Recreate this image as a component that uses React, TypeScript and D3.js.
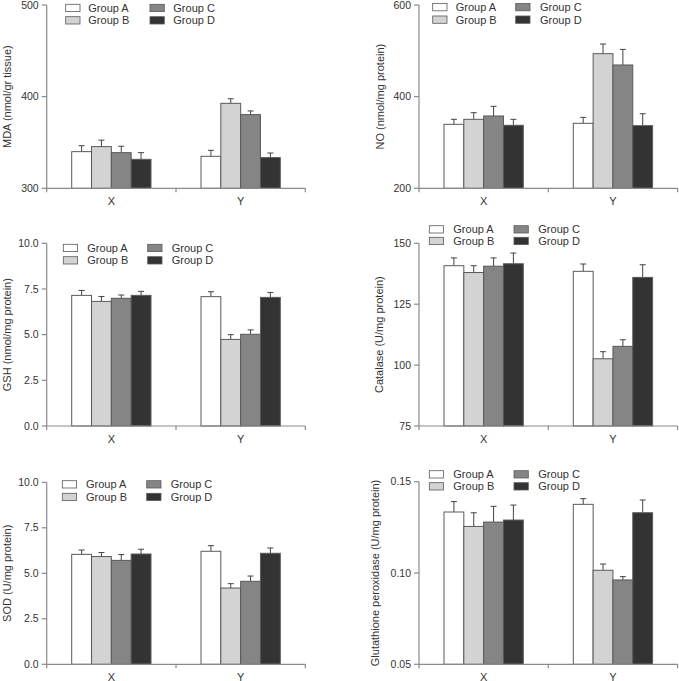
import React from "react";
import * as d3 from "d3";

const categories = ["X", "Y"];
const groups = ["Group A", "Group B", "Group C", "Group D"];
const groupColors = ["#ffffff", "#d3d3d3", "#858585", "#333333"];

const mdaValues = [[340, 345.5, 338.9, 331.6], [334.9, 392.7, 380.4, 333.5]];
const mdaErrors = [[6.5, 7, 7, 7.3], [6.5, 5, 4, 5]];
const noValues = [[339.6, 350.5, 357.8, 337.5], [341.8, 493.8, 469.1, 336.7]];
const noErrors = [[11, 14.5, 21, 13], [13, 21, 34, 26]];
const gshValues = [[7.15, 6.82, 6.99, 7.15], [7.08, 4.74, 5.02, 7.04]];
const gshErrors = [[0.27, 0.27, 0.18, 0.22], [0.27, 0.26, 0.24, 0.27]];
const catValues = [[140.8, 138.0, 140.6, 141.6], [138.5, 102.6, 107.7, 136.0]];
const catErrors = [[3.2, 2.8, 3.4, 4.4], [3.0, 2.9, 2.7, 5.2]];
const sodValues = [[6.04, 5.92, 5.71, 6.06], [6.21, 4.19, 4.56, 6.10]];
const sodErrors = [[0.24, 0.22, 0.32, 0.26], [0.31, 0.24, 0.29, 0.29]];
const gpxValues = [[0.1334, 0.1255, 0.1279, 0.129], [0.1376, 0.1015, 0.0962, 0.133]];
const gpxErrors = [[0.0057, 0.0075, 0.0086, 0.0082], [0.0031, 0.0034, 0.0018, 0.007]];

const mdaTicks = [300, 400, 500];
const noTicks = [200, 400, 600];
const gshTicks = [0, 2.5, 5, 7.5, 10];
const catTicks = [75, 100, 125, 150];
const sodTicks = [0, 2.5, 5, 7.5, 10];
const gpxTicks = [0.05, 0.1, 0.15];

const panels = [
  { title: "MDA (nmol/gr tissue)", values: mdaValues, errors: mdaErrors, ticks: mdaTicks, fmt: "d",
    ax: 46.7, top: 5, bottom: 188.3, labelX: 7.5,
    leg: { c1: 65.7, c2: 150, t1: 22.6, t2: 23.3, r1: 4.3, r2: 16.7 } },
  { title: "NO (nmol/mg protein)", values: noValues, errors: noErrors, ticks: noTicks, fmt: "d",
    ax: 419, top: 5, bottom: 188.3, labelX: 380,
    leg: { c1: 432.7, c2: 515.7, t1: 23, t2: 24.3, r1: 3.5, r2: 16 } },
  { title: "GSH (nmol/mg protein)", values: gshValues, errors: gshErrors, ticks: gshTicks, fmt: ".1f",
    ax: 46.7, top: 243.3, bottom: 426, labelX: 7,
    leg: { c1: 63.3, c2: 147.7, t1: 24, t2: 24, r1: 244.3, r2: 256.7 } },
  { title: "Catalase (U/mg protein)", values: catValues, errors: catErrors, ticks: catTicks, fmt: "d",
    ax: 419, top: 243.3, bottom: 426, labelX: 379.3,
    leg: { c1: 429.3, c2: 514, t1: 24, t2: 24.3, r1: 225.7, r2: 237.3 } },
  { title: "SOD (U/mg protein)", values: sodValues, errors: sodErrors, ticks: sodTicks, fmt: ".1f",
    ax: 46.7, top: 482.3, bottom: 664.3, labelX: 7,
    leg: { c1: 62.3, c2: 146.7, t1: 23.7, t2: 24, r1: 480.7, r2: 493.3 } },
  { title: "Glutathione peroxidase (U/mg protein)", values: gpxValues, errors: gpxErrors, ticks: gpxTicks, fmt: ".2f",
    ax: 419, top: 481.7, bottom: 664.3, labelX: 375,
    leg: { c1: 429.3, c2: 514, t1: 24, t2: 24.3, r1: 470.7, r2: 482.7 } },
];

const FONT = "Liberation Sans, Arial, Helvetica, sans-serif";
const AXIS = "#8a8a8a";
const TEXT = "#333333";
const OUTLINE = "#5a5a5a";

function Panel({ p }: { p: any }) {
  const width = 258.6;
  const x = d3.scaleBand().domain(categories).range([p.ax, p.ax + width]);
  const groupWidth = 79.3;
  const xg = d3.scaleBand().domain(groups).range([-groupWidth / 2, groupWidth / 2]);
  const y = d3.scaleLinear().domain([p.ticks[0], p.ticks[p.ticks.length - 1]]).range([p.bottom, p.top]);
  const fmt = d3.format(p.fmt);
  const bw = xg.bandwidth();
  const capW = 6;
  const boxW = 14.3;
  const boxH = 7.3;
  const legendItems = groups.map((g, i) => ({
    g,
    color: groupColors[i],
    bx: i < 2 ? p.leg.c1 : p.leg.c2,
    tx: i < 2 ? p.leg.c1 + p.leg.t1 : p.leg.c2 + p.leg.t2,
    by: i % 2 === 0 ? p.leg.r1 : p.leg.r2,
  }));
  const midY = (p.top + p.bottom) / 2;
  return (
    <g>
      {categories.map((c, ci) =>
        groups.map((g, gi) => {
          const v = p.values[ci][gi];
          const e = p.errors[ci][gi];
          const cx = x(c)! + x.bandwidth() / 2 + xg(g)!;
          const mid = cx + bw / 2;
          return (
            <g key={c + g}>
              <line x1={mid} x2={mid} y1={y(v)} y2={y(v + e)} stroke="#444" strokeWidth={1} />
              <line x1={mid - capW / 2} x2={mid + capW / 2} y1={y(v + e)} y2={y(v + e)} stroke="#444" strokeWidth={1} />
              <rect x={cx} y={y(v)} width={bw} height={p.bottom - y(v)} fill={groupColors[gi]} stroke={OUTLINE} strokeWidth={1} />
            </g>
          );
        })
      )}
      <line x1={p.ax} x2={p.ax} y1={p.top} y2={p.bottom} stroke={AXIS} strokeWidth={1.2} />
      {p.ticks.map((t: number) => (
        <g key={t}>
          <line x1={p.ax - 5} x2={p.ax} y1={y(t)} y2={y(t)} stroke={AXIS} strokeWidth={1.2} />
          <text x={p.ax - 8} y={y(t)} dy="0.35em" textAnchor="end" fontSize={10.5} fill={TEXT} fontFamily={FONT}>
            {fmt(t)}
          </text>
        </g>
      ))}
      <line x1={p.ax} x2={p.ax + width} y1={p.bottom} y2={p.bottom} stroke={AXIS} strokeWidth={1.2} />
      {[p.ax, p.ax + width / 2, p.ax + width].map((tx, i) => (
        <line key={i} x1={tx} x2={tx} y1={p.bottom} y2={p.bottom + 4} stroke={AXIS} strokeWidth={1.2} />
      ))}
      {categories.map((c) => (
        <text key={c} x={x(c)! + x.bandwidth() / 2} y={p.bottom + 16.5} textAnchor="middle" fontSize={11} fill={TEXT} fontFamily={FONT}>
          {c}
        </text>
      ))}
      <text
        transform={`translate(${p.labelX},${midY}) rotate(-90)`}
        textAnchor="middle"
        dy="0.35em"
        fontSize={11}
        fill={TEXT}
        fontFamily={FONT}
      >
        {p.title}
      </text>
      {legendItems.map((l) => (
        <g key={l.g}>
          <rect x={l.bx} y={l.by} width={boxW} height={boxH} fill={l.color} stroke={OUTLINE} strokeWidth={0.8} />
          <text x={l.tx} y={l.by + boxH / 2} dy="0.36em" fontSize={11} fill={TEXT} fontFamily={FONT}>
            {l.g}
          </text>
        </g>
      ))}
    </g>
  );
}

export default function App() {
  return (
    <svg width={679} height={681} style={{ position: "absolute", left: 0, top: 0, background: "#fff" }}>
      <rect x={0} y={0} width={679} height={681} fill="#fff" />
      {panels.map((p, i) => (
        <Panel key={i} p={p} />
      ))}
    </svg>
  );
}
